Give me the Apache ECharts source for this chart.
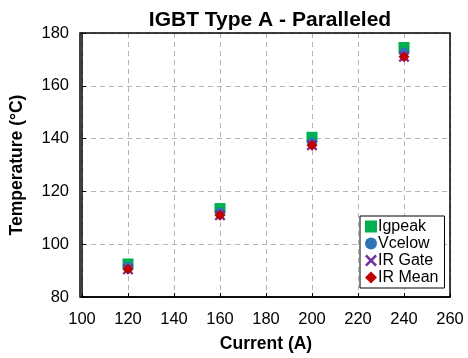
<!DOCTYPE html>
<html>
<head>
<meta charset="utf-8">
<script src="https://cdn.jsdelivr.net/npm/echarts@6/dist/echarts.min.js"></script>
<style>
  html, body { margin: 0; padding: 0; background: #fff; }
  #chart { width: 468px; height: 358px; }
</style>
</head>
<body>
<div id="chart"></div>
<script>
// Current (A) for each measurement
const currents = [120, 160, 200, 240];
// Junction temperature estimates (°C) by method
const igpeak = [92.5, 113.5, 140.5, 174.5];
const vcelow = [91.5, 112, 138.5, 172.5];
const irGate = [90.5, 111, 137.5, 171];
const irMean = [90.5, 111, 137.5, 171];

const xTicks = [100, 120, 140, 160, 180, 200, 220, 240, 260];
const yTicks = [80, 100, 120, 140, 160, 180];

const crossPath = 'path://M0,1.5L1.5,0L5,3.5L8.5,0L10,1.5L6.5,5L10,8.5L8.5,10L5,6.5L1.5,10L0,8.5L3.5,5Z';

const font = 'Liberation Sans, Arial, sans-serif';

function pts(vals) { return currents.map((c, i) => [c, vals[i]]); }

const chart = echarts.init(document.getElementById('chart'), null, { renderer: 'canvas' });
chart.setOption({
  animation: false,
  title: {
    text: 'IGBT Type A - Paralleled',
    left: 265, top: 5, textAlign: 'center',
    textStyle: { fontFamily: font, fontSize: 21, fontWeight: 'bold', color: '#000' }
  },
  grid: { left: 80, right: 18, top: 33, bottom: 61 },
  xAxis: {
    type: 'value', min: xTicks[0], max: xTicks[xTicks.length - 1], interval: 20,
    name: 'Current (A)', nameLocation: 'middle', nameGap: 38,
    nameTextStyle: { fontFamily: font, fontSize: 17.5, fontWeight: 'bold', color: '#000' },
    axisLine: { show: true, lineStyle: { color: '#000', width: 1.5 } },
    axisTick: { show: true, inside: true, length: 4, lineStyle: { color: '#000' } },
    axisLabel: { fontFamily: font, fontSize: 16.5, color: '#000', margin: 14 },
    splitLine: { show: true, lineStyle: { color: '#b4b4b4', type: [5, 4], width: 1 } }
  },
  yAxis: {
    type: 'value', min: yTicks[0], max: yTicks[yTicks.length - 1], interval: 20,
    name: 'Temperature (°C)', nameLocation: 'middle', nameGap: 56,
    nameTextStyle: { fontFamily: font, fontSize: 17.5, fontWeight: 'bold', color: '#000' },
    axisLine: { show: true, lineStyle: { color: '#000', width: 1.5 } },
    axisTick: { show: true, inside: true, length: 4, lineStyle: { color: '#000' } },
    axisLabel: { fontFamily: font, fontSize: 16.5, color: '#000', margin: 13 },
    splitLine: { show: true, lineStyle: { color: '#b4b4b4', type: [5, 4], width: 1 } }
  },
  legend: {
    orient: 'vertical', left: 360, top: 216,
    backgroundColor: '#fff', borderColor: '#000', borderWidth: 1,
    padding: [2, 6, 2, 5], itemGap: 0, itemWidth: 12, itemHeight: 12,
    textStyle: { fontFamily: font, fontSize: 16, lineHeight: 17, color: '#000', padding: [0, 0, 0, -4] },
    data: ['Igpeak', 'Vcelow', 'IR Gate', 'IR Mean']
  },
  series: [
    { name: 'Igpeak', type: 'scatter', symbol: 'rect', symbolSize: 11, data: pts(igpeak), itemStyle: { color: '#00B050', opacity: 1 } },
    { name: 'Vcelow', type: 'scatter', symbol: 'circle', symbolSize: 10, data: pts(vcelow), itemStyle: { color: '#2E75B6', opacity: 1 } },
    { name: 'IR Gate', type: 'scatter', symbol: crossPath, symbolSize: 11, data: pts(irGate), itemStyle: { color: '#7030A0', opacity: 1 } },
    { name: 'IR Mean', type: 'scatter', symbol: 'diamond', symbolSize: 11, data: pts(irMean), itemStyle: { color: '#C00000', opacity: 1 } }
  ],
  graphic: [{
    type: 'rect', shape: { x: 80, y: 33, width: 370, height: 264 },
    style: { fill: 'none', stroke: '#000', lineWidth: 1.5 }, silent: true, z: 10
  }]
});
</script>
</body>
</html>
